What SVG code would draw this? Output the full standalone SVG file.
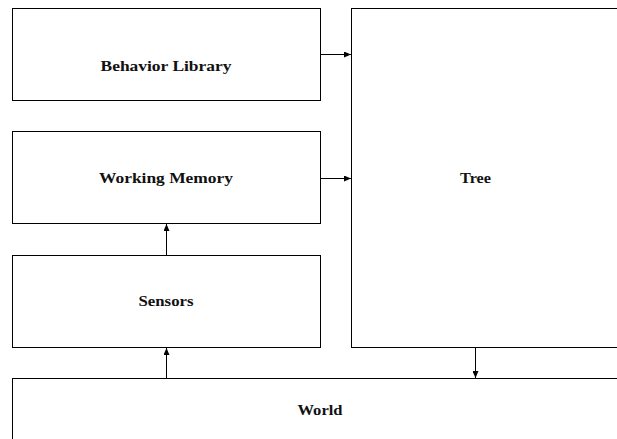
<svg xmlns="http://www.w3.org/2000/svg" width="617" height="439" viewBox="0 0 617 439">
<style>
.box{fill:#fff;stroke:#000;stroke-width:1}
.lbl{font-family:"Liberation Serif","Times New Roman",serif;font-weight:bold;font-size:14.5px;fill:#111;text-anchor:middle}
.edge{stroke:#000;stroke-width:1;fill:none;marker-end:url(#ah)}
</style>
<defs>
<marker id="ah" markerUnits="userSpaceOnUse" markerWidth="7" markerHeight="6" refX="7" refY="3" orient="auto">
<path d="M0,0 L7,3 L0,6 z" fill="#000"/>
</marker>
</defs>
<rect width="617" height="439" fill="#fff"/>
<g id="behavior-library"><rect class="box" x="12.5" y="8.5" width="308" height="92"/><text class="lbl" x="166" y="70.5" textLength="131" lengthAdjust="spacingAndGlyphs">Behavior Library</text></g>
<g id="working-memory"><rect class="box" x="12.5" y="131.5" width="308" height="92"/><text class="lbl" x="166" y="182.5" textLength="134" lengthAdjust="spacingAndGlyphs">Working Memory</text></g>
<g id="sensors"><rect class="box" x="12.5" y="255.5" width="308" height="92"/><text class="lbl" x="166" y="305.5" textLength="55" lengthAdjust="spacingAndGlyphs">Sensors</text></g>
<g id="tree"><rect class="box" x="351.5" y="8.5" width="300" height="339"/><text class="lbl" x="475.5" y="183" textLength="31" lengthAdjust="spacingAndGlyphs">Tree</text></g>
<g id="world"><rect class="box" x="12.5" y="378.5" width="640" height="100"/><text class="lbl" x="320" y="415" textLength="45" lengthAdjust="spacingAndGlyphs">World</text></g>
<g id="connectors">
<line class="edge" x1="320.5" y1="54.5" x2="351" y2="54.5"/>
<line class="edge" x1="320.5" y1="178.5" x2="351" y2="178.5"/>
<line class="edge" x1="166.5" y1="255.5" x2="166.5" y2="224"/>
<line class="edge" x1="166.5" y1="378.5" x2="166.5" y2="348"/>
<line class="edge" x1="475.5" y1="347.5" x2="475.5" y2="378"/>
</g>
</svg>
